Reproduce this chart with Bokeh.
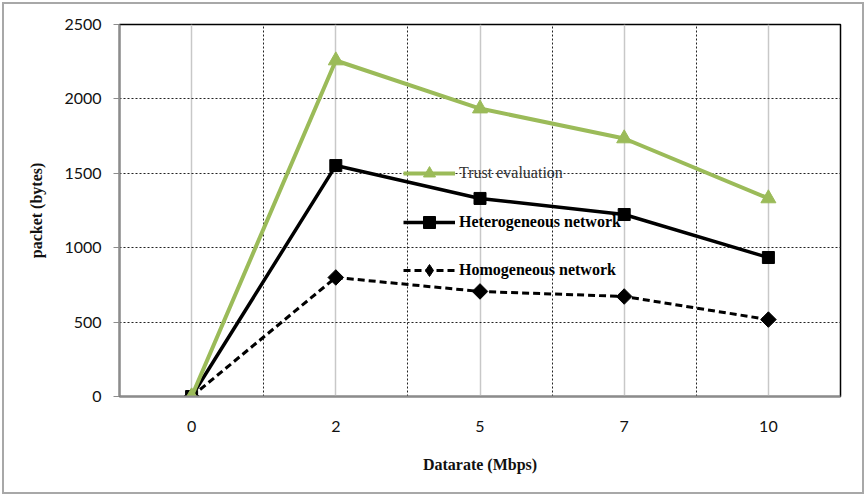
import math
from bokeh.plotting import figure
from bokeh.models import (FixedTicker, Grid, Legend, LegendItem, Range1d,
                          InlineStyleSheet)
from bokeh.embed import file_html
from bokeh.resources import INLINE

categories = ["0", "2", "5", "7", "10"]
trust = [0, 2258, 1935, 1734, 1331]
hetero = [0, 1552, 1331, 1223, 934]
homo = [0, 800, 706, 672, 517]
y_ticks = [0, 500, 1000, 1500, 2000, 2500]

xs = list(range(len(categories)))

p = figure(width=867, height=496, output_backend="svg", toolbar_location=None,
           x_range=Range1d(-0.5, len(categories) - 0.5),
           y_range=Range1d(0, 2500),
           min_border_left=119, min_border_right=27,
           min_border_top=24, min_border_bottom=100)
p.background_fill_color = "white"
p.border_fill_color = "white"
p.outline_line_color = "black"
p.outline_line_width = 1.5
p.stylesheets = [InlineStyleSheet(css=(
    ":host::after{content:'';position:absolute;left:2px;top:2px;right:3px;"
    "bottom:2px;border:2px solid #a8a8a8;pointer-events:none;z-index:1000;}"
    ":host{position:relative;}"))]

# axes
p.xaxis.ticker = FixedTicker(ticks=xs)
p.xaxis.major_label_overrides = {i: c for i, c in enumerate(categories)}
p.yaxis.ticker = FixedTicker(ticks=y_ticks)
for ax in (p.xaxis, p.yaxis):
    ax.axis_line_color = "#8c8c8c"
    ax.axis_line_width = 2
    ax.major_tick_line_color = "#8c8c8c"
    ax.minor_tick_line_color = None
    ax.major_label_text_font = "Lato"
    ax.major_label_text_font_size = "16px"
    ax.major_label_text_color = "#111111"
    ax.axis_label_text_font = "Liberation Serif"
    ax.axis_label_text_font_style = "bold"
    ax.axis_label_text_font_size = "16px"
    ax.axis_label_text_color = "#111111"
p.xaxis.major_tick_in = 0
p.xaxis.major_tick_out = 0
p.xaxis.major_label_standoff = 24
p.xaxis.axis_label = "Datarate (Mbps)"
p.xaxis.axis_label_standoff = 21
p.yaxis.major_tick_in = 0
p.yaxis.major_tick_out = 6
p.yaxis.major_label_standoff = 12
p.yaxis.axis_label = "packet (bytes)"
p.yaxis.axis_label_standoff = 16

# grids
p.xgrid.ticker = FixedTicker(ticks=xs)
p.xgrid.grid_line_color = "#c8c8c8"
p.xgrid.grid_line_width = 1.5
p.ygrid.grid_line_color = "#222222"
p.ygrid.grid_line_dash = "2 2"
p.ygrid.grid_line_width = 1
bounds = [i + 0.5 for i in xs[:-1]]
p.add_layout(Grid(dimension=0, ticker=FixedTicker(ticks=bounds),
                  grid_line_color="#222222", grid_line_dash="2 2",
                  grid_line_width=1))

# series
hl = p.line(xs, hetero, line_color="black", line_width=3.5)
hs = p.scatter(xs, hetero, marker="square", size=12, color="black")
ml = p.line(xs, homo, line_color="black", line_width=3, line_dash="7 4")
ms = p.scatter(xs, homo, marker="square", size=11, angle=math.pi / 4,
               color="black")
ms_leg = p.scatter(xs, homo, marker="diamond", size=14, color="black",
                   visible=False)
tl = p.line(xs, trust, line_color="#9BBB59", line_width=4)
ts = p.scatter(xs, trust, marker="triangle", size=15, color="#9BBB59")

common = dict(border_line_color=None, background_fill_alpha=0,
              padding=0, margin=0, glyph_width=52, glyph_height=30,
              label_standoff=4, label_text_font="Liberation Serif",
              label_text_font_size="16px", label_height=20)
leg1 = Legend(items=[LegendItem(label="Trust evaluation", renderers=[tl, ts])],
              location=(284, 208), label_text_color="#333333", **common)
leg2 = Legend(items=[LegendItem(label="Heterogeneous network", renderers=[hl, hs]),
                     LegendItem(label="Homogeneous network", renderers=[ml, ms_leg])],
              location=(284, 111), spacing=18, label_text_color="black",
              label_text_font_style="bold", **common)
p.add_layout(leg1)
p.add_layout(leg2)

open("out.html", "w").write(file_html(p, INLINE))
